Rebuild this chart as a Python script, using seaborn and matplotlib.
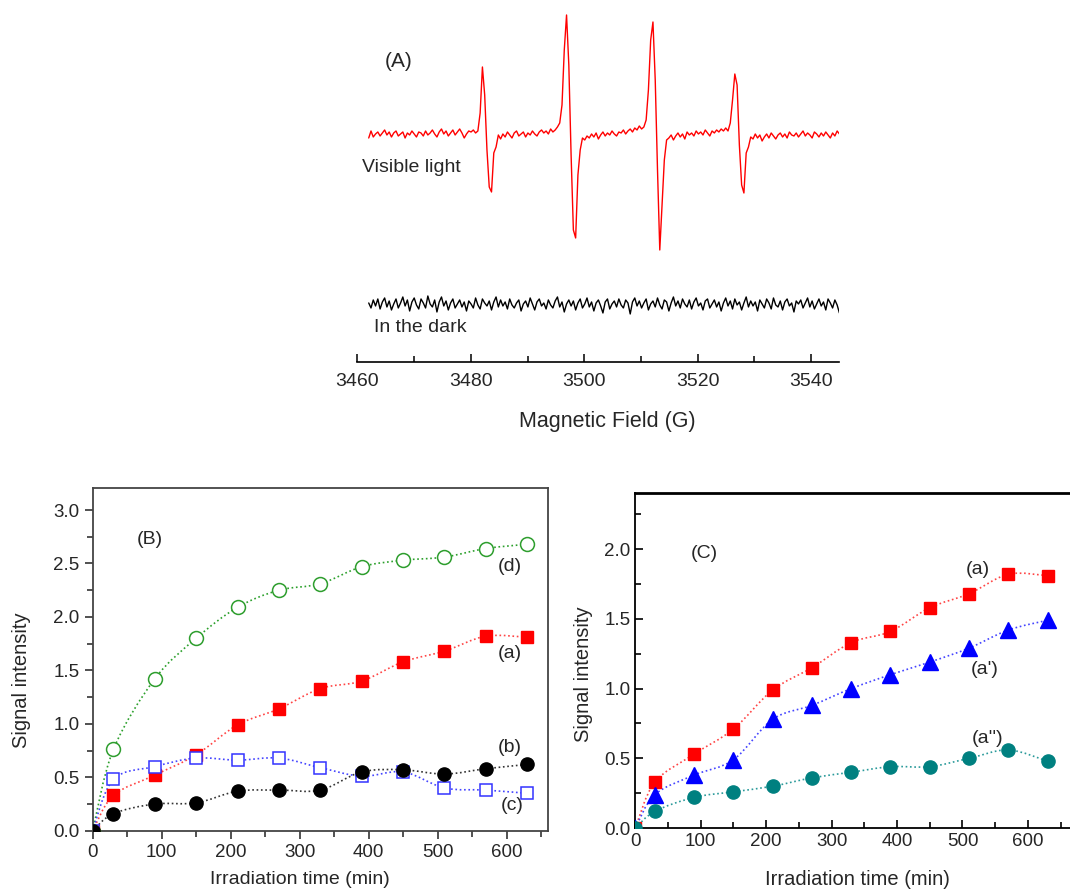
import numpy as np
import matplotlib
matplotlib.use("Agg")
import matplotlib.pyplot as plt
from matplotlib.path import Path
from matplotlib.patches import PathPatch
from matplotlib.ticker import MultipleLocator
import seaborn as sns

# ---------------- Panel A: EPR spectra (arbitrary units) ----------------
field_start = 3462.0
field_end = 3545.0
visible_signal = [
    -3, 4, -2, 1, 3, -1, 2, 5, 0, 3,
    -2, 2, 4, -1, 1, 3, -3, 2, 0, 4,
    1, -2, 3, 2, -1, 4, 0, 2, 5, 1,
    -2, 3, 6, 1, 4, -1, 2, 5, 0, 3,
    6, 2, -3, 1, 4, 3, 5, 2,
    4, 22, 68, 40, -15, -52, -57, -18, -12, 0,
    -4, 1, -2, 3, 0, -3, 2, 4, -1, 1,
    3, -2, 2, 0, 4, 1, -1, 3, 5, 2,
    4, 1, 6, 3, 5, 8,
    12, 30, 85, 120, 70, -20, -95, -103, -40, -15, -3,
    -5, -1, -3, 1, -2, 2, -4, 0, 3, -1,
    2, 0, 4, 1, -1, 3, 2, 5, 1, 4,
    6, 3, 7, 5, 9, 6,
    8, 15, 45, 95, 113, 55, -35, -115, -70, -25, -5,
    -3, 0, -5, -1, 2, -2, 1, -4, 3, 0,
    2, -1, 4, 1, 3, 0, 5, 2, -1, 4,
    2, 5, 3, 6, 4, 7,
    4, 12, 35, 61, 50, -10, -50, -58, -18, -12, -2,
    -4, 1, -3, 0, -6, -2, 1, -3, 2, -1,
    -4, 0, 2, -2, 1, -3, 3, 0, -1, 2,
    -2, 1, 4, -1, 2, 0, -3, 3, 1, -2,
    2, -1, 3, 0, -3, 2, -1, 4, 1,
]
dark_signal = [
    2, -3, 5, -1, 6, -4, 3, 7, -2, 4,
    -5, 1, 6, -3, 2, 8, -1, 5, -6, 3,
    7, 0, -4, 6, 2, -3, 9, 1, -2, 5,
    -7, 3, 8, -1, 4, -5, 2, 6, -3, 1,
    5, -2, 3, -6, 4, 1, -3, 7, 0, -4,
    6, 2, -1, 4, -5, 3, 8, -2, 5, -1,
    3, -4, 6, 0, -3, 2, 5, -6, 1, 4,
    -2, 7, 1, -5, 3, 6, -1, 2, -4, 5,
    0, -3, 4, 8, -2, 3, -7, 1, 5, -1,
    4, -5, 2, 6, -3, 1, 7, -2, 3, -6,
    2, 5, -1, -8, 3, 6, -4, 1, 4, -2,
    6, 0, -3, 5, 2, -9, 3, 7, -1, 4,
    -3, 2, 6, -5, 1, 4, -2, 7, 0, -4,
    5, 3, -6, 2, 8, -1, 4, -3, 6, 1,
    -2, 5, -4, 3, 7, -1, 2, -5, 4, 6,
    -3, 1, 5, -2, 3, -6, 2, 7, -1, 4,
    -4, 6, 0, 3, -5, 2, 8, -2, 4, -1,
    3, -6, 5, 1, -3, 6, 2, -4, 7, 0,
    -2, 4, -5, 3, 6, -1, 2, -7, 4, 1,
    5, -3, 2, 7, -2, 4, -4, 1, 6, -1,
    3, -5, 6, 2, -3, 5, 0, -8,
]
a_ticks = [3460, 3480, 3500, 3520, 3540]

# ---------------- Panels B and C ----------------
time_min = [0, 30, 90, 150, 210, 270, 330, 390, 450, 510, 570, 630]
b_series_d = [0.0, 0.76, 1.42, 1.80, 2.09, 2.25, 2.31, 2.47, 2.53, 2.56, 2.64, 2.68]
b_series_a = [0.0, 0.33, 0.52, 0.71, 0.99, 1.14, 1.33, 1.40, 1.58, 1.68, 1.82, 1.81]
b_series_b = [0.0, 0.48, 0.60, 0.68, 0.66, 0.68, 0.59, 0.51, 0.55, 0.40, 0.38, 0.35]
b_series_c = [0.0, 0.16, 0.25, 0.26, 0.37, 0.38, 0.38, 0.55, 0.57, 0.53, 0.58, 0.62]

c_series_a = [0.0, 0.33, 0.53, 0.71, 0.99, 1.15, 1.33, 1.41, 1.58, 1.68, 1.82, 1.81]
c_series_a1 = [0.0, 0.24, 0.38, 0.49, 0.78, 0.88, 1.00, 1.10, 1.19, 1.29, 1.42, 1.49]
c_series_a2 = [0.0, 0.12, 0.22, 0.26, 0.30, 0.36, 0.40, 0.44, 0.44, 0.50, 0.56, 0.48]

sns.set_style("ticks")
plt.rcParams["font.family"] = ["Liberation Sans", "DejaVu Sans"]

fig = plt.figure(figsize=(10.7, 8.92), dpi=100)


def smooth_line(ax, x, y, color):
    x = np.asarray(x, float)
    y = np.asarray(y, float)
    n = len(x)
    verts = [(x[0], y[0])]
    codes = [Path.MOVETO]
    for i in range(n - 1):
        i0 = max(i - 1, 0)
        i3 = min(i + 2, n - 1)
        c1 = (x[i] + (x[i + 1] - x[i0]) / 6.0, y[i] + (y[i + 1] - y[i0]) / 6.0)
        c2 = (x[i + 1] - (x[i3] - x[i]) / 6.0, y[i + 1] - (y[i3] - y[i]) / 6.0)
        verts += [c1, c2, (x[i + 1], y[i + 1])]
        codes += [Path.CURVE4] * 3
    ax.add_patch(PathPatch(Path(verts, codes), fill=False, edgecolor=color,
                           lw=1.2, linestyle=(0, (1, 1.6)), zorder=2))


def markers(ax, x, y, marker, size, fc, ec, mew=1.0):
    sns.lineplot(x=x, y=y, ax=ax, marker=marker, markersize=size,
                 markerfacecolor=fc, markeredgecolor=ec, markeredgewidth=mew,
                 linestyle="", color=ec, estimator=None, sort=False,
                 legend=False, zorder=3)


# ---------------- Panel A ----------------
axA = fig.add_axes([0.3340, 0.5942, 0.4505, 0.4002])
fields = np.linspace(field_start, field_end, len(visible_signal))
fields_dark = np.linspace(field_start, field_end, len(dark_signal))
dark_offset = -170
sns.lineplot(x=fields, y=visible_signal, ax=axA, color="#ff0000", lw=1.0,
             estimator=None, sort=False)
sns.lineplot(x=fields_dark, y=np.asarray(dark_signal) + dark_offset, ax=axA,
             color="black", lw=1.0, estimator=None, sort=False)
axA.set_xlim(3460, 3545)
axA.set_ylim(-227, 130)
for s in ["left", "right", "top"]:
    axA.spines[s].set_visible(False)
axA.spines["bottom"].set_linewidth(1.2)
axA.spines["bottom"].set_color("black")
axA.set_yticks([])
axA.set_xticks(a_ticks)
axA.xaxis.set_minor_locator(MultipleLocator(10))
axA.tick_params(axis="x", which="major", direction="in", length=6, width=1.1,
                labelsize=14, pad=8, color="black")
axA.tick_params(axis="x", which="minor", direction="in", length=4, width=1.1,
                color="black")
axA.set_xlabel("Magnetic Field (G)", fontsize=15.5)
axA.xaxis.set_label_coords(0.518, -0.137)
axA.set_ylabel("")
axA.patch.set_alpha(0)
axA.text(3467.2, 73, "(A)", fontsize=15, ha="center", va="center")
axA.text(3460.8, -33, "Visible light", fontsize=14, ha="left", va="center")
axA.text(3462.9, -193, "In the dark", fontsize=14, ha="left", va="center")

# ---------------- Panel B ----------------
axB = fig.add_axes([0.0866, 0.0687, 0.4255, 0.3842])
smooth_line(axB, time_min, b_series_d, "#2ca02c")
smooth_line(axB, time_min, b_series_a, "#ff4444")
smooth_line(axB, time_min, b_series_b, "#4444ff")
smooth_line(axB, time_min, b_series_c, "#333333")
markers(axB, time_min, b_series_d, "o", 10, "white", "#2e9e2e", 1.1)
markers(axB, time_min, b_series_a, "s", 9, "#ff0000", "#ff0000", 1.0)
markers(axB, time_min, b_series_b, "s", 9, "white", "#3333ff", 1.1)
markers(axB, time_min, b_series_c, "o", 9.5, "black", "black", 1.0)
axB.set_xlim(0, 660)
axB.set_ylim(0, 3.206)
axB.xaxis.set_major_locator(MultipleLocator(100))
axB.xaxis.set_minor_locator(MultipleLocator(50))
axB.yaxis.set_major_locator(MultipleLocator(0.5))
axB.yaxis.set_minor_locator(MultipleLocator(0.25))
axB.yaxis.set_major_formatter(matplotlib.ticker.FormatStrFormatter("%.1f"))
axB.tick_params(which="major", direction="out", length=6, width=1.2,
                labelsize=13.5, color="#333333")
axB.tick_params(which="minor", direction="out", length=4, width=1.2,
                color="#333333")
for s in axB.spines.values():
    s.set_linewidth(1.3)
    s.set_color("#444444")
axB.set_xlabel("Irradiation time (min)", fontsize=14)
axB.set_ylabel("Signal intensity", fontsize=14.5)
axB.xaxis.set_label_coords(0.455, -0.118)
axB.yaxis.set_label_coords(-0.135, 0.44)
axB.text(83, 2.72, "(B)", fontsize=14, ha="center", va="center")
axB.text(605, 2.47, "(d)", fontsize=14, ha="center", va="center")
axB.text(604, 1.66, "(a)", fontsize=14, ha="center", va="center")
axB.text(604, 0.78, "(b)", fontsize=14, ha="center", va="center")
axB.text(608, 0.234, "(c)", fontsize=14, ha="center", va="center")

# ---------------- Panel C ----------------
axC = fig.add_axes([0.5937, 0.0717, 0.4159, 0.3752])
smooth_line(axC, time_min, c_series_a, "#ff4444")
smooth_line(axC, time_min, c_series_a1, "#4444ff")
smooth_line(axC, time_min, c_series_a2, "#2a9a9a")
markers(axC, time_min, c_series_a, "s", 9, "#ff0000", "#ff0000", 1.0)
markers(axC, time_min, c_series_a1, "^", 11, "#0000ff", "#0000ff", 1.0)
markers(axC, time_min, c_series_a2, "o", 9.5, "#008080", "#008080", 1.0)
axC.set_xlim(0, 680)
axC.set_ylim(0, 2.4)
axC.xaxis.set_major_locator(MultipleLocator(100))
axC.xaxis.set_minor_locator(MultipleLocator(50))
axC.yaxis.set_major_locator(MultipleLocator(0.5))
axC.yaxis.set_minor_locator(MultipleLocator(0.25))
axC.yaxis.set_major_formatter(matplotlib.ticker.FormatStrFormatter("%.1f"))
axC.tick_params(which="major", direction="in", length=6, width=1.2,
                labelsize=13.5, color="black")
axC.tick_params(which="minor", direction="in", length=4, width=1.2,
                color="black")
for s in axC.spines.values():
    s.set_linewidth(1.3)
    s.set_color("black")
axC.spines["top"].set_linewidth(2.0)
axC.set_xlabel("Irradiation time (min)", fontsize=14.5)
axC.set_ylabel("Signal intensity", fontsize=14.5)
axC.xaxis.set_label_coords(0.50, -0.125)
axC.yaxis.set_label_coords(-0.095, 0.459)
axC.text(106, 1.967, "(C)", fontsize=14, ha="center", va="center")
axC.text(524, 1.857, "(a)", fontsize=14, ha="center", va="center")
axC.text(534, 1.135, "(a')", fontsize=14, ha="center", va="center")
axC.text(539, 0.645, "(a'')", fontsize=14, ha="center", va="center")

fig.savefig("out.png", dpi=100)
